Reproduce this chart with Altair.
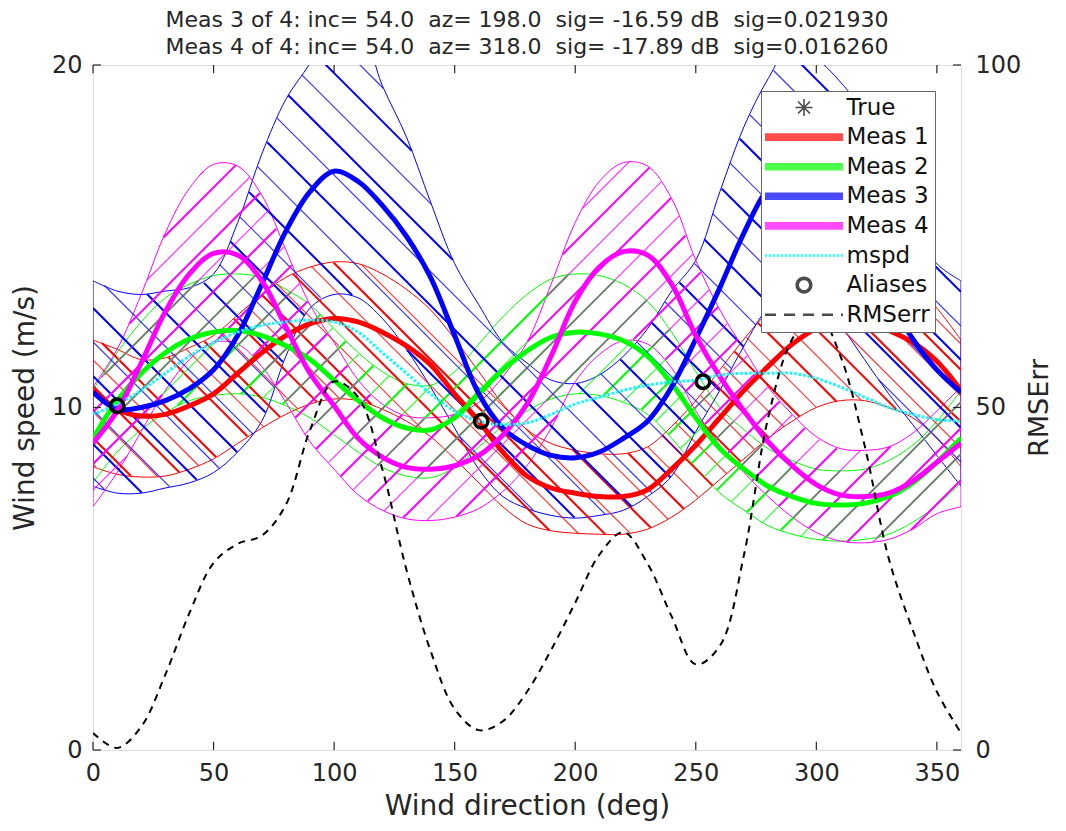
import altair as alt
import numpy as np
import pandas as pd

# ---------------- data ----------------
DEG = list(range(0, 361, 10))

MEAS1 = [10.5, 9.95, 9.75, 9.8, 10.05, 10.4, 11.0, 11.6, 12.1, 12.45, 12.6, 12.5, 12.2, 11.8, 11.25, 10.4, 9.6, 8.7, 8.0,
         7.65, 7.5, 7.4, 7.4, 7.6, 8.2, 8.9, 9.7, 10.5, 11.2, 11.85, 12.3, 12.5, 12.5, 12.25, 11.9, 11.35, 10.5]
MEAS1_HI = [11.97, 11.7, 11.4, 11.45, 11.75, 12.1, 12.7, 13.3, 13.8, 14.1, 14.25, 14.2, 13.9, 13.45, 12.85, 12.0, 11.05,
            10.1, 9.35, 8.95, 8.75, 8.65, 8.65, 8.85, 9.45, 10.2, 11.1, 12.0, 12.8, 13.45, 13.95, 14.2, 14.25, 14.0,
            13.6, 12.9, 11.97]
MEAS1_LO = [8.27, 8.05, 7.97, 8.0, 8.2, 8.5, 8.95, 9.4, 9.8, 10.1, 10.25, 10.2, 9.95, 9.6, 9.15, 8.5, 7.8, 7.1, 6.6,
            6.4, 6.33, 6.3, 6.3, 6.45, 6.8, 7.3, 7.9, 8.5, 9.1, 9.6, 10.0, 10.2, 10.2, 10.0, 9.7, 9.1, 8.27]

MEAS2 = [9.1, 10.2, 11.0, 11.6, 12.0, 12.2, 12.25, 12.1, 11.8, 11.4, 10.8, 10.2, 9.7, 9.4, 9.35, 9.7, 10.4, 11.1, 11.65,
         12.05, 12.2, 12.15, 11.95, 11.5, 10.7, 9.7, 8.8, 8.2, 7.7, 7.4, 7.2, 7.15, 7.2, 7.4, 7.8, 8.4, 9.1]
MEAS2_HI = [10.5, 11.6, 12.5, 13.2, 13.6, 13.85, 13.9, 13.8, 13.45, 13.0, 12.3, 11.6, 11.05, 10.7, 10.65, 11.05, 11.85,
            12.65, 13.3, 13.75, 13.9, 13.85, 13.6, 13.1, 12.2, 11.05, 10.0, 9.35, 8.8, 8.45, 8.2, 8.15, 8.2, 8.45, 8.9,
            9.6, 10.5]
MEAS2_LO = [7.8, 8.7, 9.35, 9.85, 10.2, 10.35, 10.4, 10.3, 10.05, 9.7, 9.2, 8.7, 8.25, 8.0, 7.95, 8.25, 8.85, 9.45, 9.9,
            10.25, 10.4, 10.35, 10.15, 9.8, 9.1, 8.25, 7.5, 7.0, 6.55, 6.3, 6.15, 6.1, 6.15, 6.3, 6.65, 7.15, 7.8]

MEAS3 = [10.45, 9.95, 10.0, 10.2, 10.55, 11.1, 12.1, 13.6, 15.15, 16.3, 16.9, 16.6, 15.9, 15.0, 13.8, 12.1, 10.4, 9.4,
         8.9, 8.6, 8.53, 8.7, 9.1, 9.6, 10.6, 12.0, 13.5, 15.1, 16.4, 17.0, 16.7, 15.6, 14.4, 13.2, 12.0, 11.1, 10.45]
MEAS3_HI = [13.7, 13.4, 13.3, 13.4, 13.5, 13.9, 15.4, 17.4, 19.0, 20.05, 21.3, 21.2, 19.4, 17.9, 16.0, 14.2, 13.0, 11.9,
            11.3, 10.8, 10.7, 10.95, 11.5, 12.3, 13.4, 14.3, 16.3, 18.2, 19.6, 20.6, 20.2, 19.5, 18.6, 17.0, 15.4, 14.2,
            13.7]
MEAS3_LO = [7.7, 7.5, 7.5, 7.65, 7.8, 8.1, 8.7, 9.6, 11.5, 12.9, 13.3, 13.2, 12.6, 11.7, 10.6, 9.4, 8.2, 7.4, 7.05, 6.85,
            6.77, 6.85, 7.0, 7.4, 8.0, 9.3, 10.5, 11.8, 12.9, 13.3, 13.2, 12.4, 11.4, 10.4, 9.5, 8.6, 7.7]

MEAS4 = [8.96, 9.9, 11.3, 12.8, 13.9, 14.5, 14.45, 13.7, 12.35, 11.0, 10.05, 9.1, 8.55, 8.25, 8.2, 8.3, 8.6, 9.2, 10.1,
         11.5, 13.1, 14.1, 14.55, 14.45, 13.6, 12.1, 10.9, 9.9, 9.0, 8.3, 7.75, 7.45, 7.4, 7.5, 7.85, 8.4, 8.96]
MEAS4_HI = [10.6, 11.7, 13.3, 15.1, 16.4, 17.1, 17.05, 16.2, 14.6, 13.0, 11.9, 10.8, 10.1, 9.75, 9.7, 9.8, 10.15, 10.9,
            11.9, 13.6, 15.4, 16.6, 17.15, 17.05, 16.1, 14.3, 12.85, 11.7, 10.6, 9.8, 9.15, 8.8, 8.75, 8.85, 9.25, 9.9,
            10.6]
MEAS4_LO = [7.1, 8.1, 9.3, 10.5, 11.4, 11.9, 11.85, 11.2, 10.15, 9.0, 8.2, 7.45, 7.0, 6.75, 6.7, 6.8, 7.05, 7.55, 8.3,
            9.4, 10.75, 11.55, 11.95, 11.85, 11.15, 9.9, 8.9, 8.1, 7.4, 6.8, 6.35, 6.1, 6.05, 6.15, 6.45, 6.9, 7.1]

MSPD = [9.8, 10.1, 10.5, 11.0, 11.5, 11.9, 12.2, 12.4, 12.5, 12.55, 12.5, 12.2, 11.6, 11.0, 10.4, 9.9, 9.6, 9.5, 9.55,
        9.8, 10.1, 10.3, 10.5, 10.65, 10.75, 10.8, 10.95, 11.0, 11.0, 11.0, 10.85, 10.6, 10.3, 10.0, 9.8, 9.65, 9.6]

RMSERR = [2.5, 0.3, 3.4, 11.0, 20.0, 27.3, 30.1, 31.3, 35.8, 46.7, 53.8, 51.5, 41.0, 26.3, 14.5, 6.0, 2.9, 4.2, 8.5,
          14.6, 21.5, 28.5, 31.8, 27.2, 19.5, 12.5, 15.2, 28.5, 48.5, 60.0, 64.0, 57.5, 44.5, 28.0, 17.5, 8.5, 2.5]

ALIAS_DIR = [10, 161, 253]
ALIAS_SPD = [10.05, 9.6, 10.75]

MEAS_NAMES = ["Meas 1", "Meas 2", "Meas 3", "Meas 4"]
MEAS_COLORS = ["#ff0000", "#00ff00", "#0000ff", "#ff00ff"]
SERIES = ["True", "Meas 1", "Meas 2", "Meas 3", "Meas 4", "mspd", "Aliases", "RMSerr"]
SERIES_COLORS = ["#000000", "#ff0000", "#00ff00", "#0000ff", "#ff00ff", "#00ffff", "#000000", "#000000"]

X_TICKS = [0, 50, 100, 150, 200, 250, 300, 350]
Y_TICKS = [0, 10, 20]
R_TICKS = [0, 50, 100]

TITLE_LINES = [
    "Meas 3 of 4: inc= 54.0  az= 198.0  sig= -16.59 dB  sig=0.021930",
    "Meas 4 of 4: inc= 54.0  az= 318.0  sig= -17.89 dB  sig=0.016260",
]

# ---------------- layout / style ----------------
W, H = 868, 685
FONT = "DejaVu Sans"
TXT = "#262626"
CURVE = "catmull-rom"
PX_X = W / 360.0
PX_Y = H / 20.0
K = PX_X / PX_Y  # m/s per degree for a 45 degree hatch line on screen

means = [MEAS1, MEAS2, MEAS3, MEAS4]
his = [MEAS1_HI, MEAS2_HI, MEAS3_HI, MEAS4_HI]
los = [MEAS1_LO, MEAS2_LO, MEAS3_LO, MEAS4_LO]
hatch_dir = [-1, 1, -1, 1]
hatch_gap = [26, 26, 34, 26]

xs = alt.Scale(domain=[0, 360], nice=False, zero=False)
ys = alt.Scale(domain=[0, 20], nice=False, zero=False)
rs = alt.Scale(domain=[0, 100], nice=False, zero=False)

xaxis = alt.Axis(values=X_TICKS, title="Wind direction (deg)", ticks=False, domain=False, grid=False,
                 labelFontSize=24, titleFontSize=28, labelFont=FONT, titleFont=FONT, labelColor=TXT,
                 titleColor=TXT, titleFontWeight="normal", labelPadding=11, titlePadding=7,
                 labelFlush=False, labelOverlap=False)
yaxis = alt.Axis(values=Y_TICKS, title="Wind speed (m/s)", ticks=False, domain=False, grid=False,
                 labelFontSize=24, titleFontSize=28, labelFont=FONT, titleFont=FONT, labelColor=TXT,
                 titleColor=TXT, titleFontWeight="normal", labelPadding=11, titlePadding=12,
                 labelFlush=False, labelOverlap=False)
raxis = alt.Axis(values=R_TICKS, title="RMSErr", orient="right", ticks=False, domain=False, grid=False,
                 labelFontSize=24, titleFontSize=27, labelFont=FONT, titleFont=FONT, labelColor=TXT,
                 titleColor=TXT, titleFontWeight="normal", labelPadding=14, titlePadding=6,
                 titleAngle=270, titleBaseline="top", labelFlush=False, labelOverlap=False)


def X(f="deg"):
    return alt.X(f"{f}:Q", scale=xs, axis=xaxis)


def Y(f):
    return alt.Y(f"{f}:Q", scale=ys, axis=yaxis)


def smooth(vals, n_sub=40):
    """Catmull-Rom evaluation of the read points (only used to clip the hatch lines)."""
    p = np.asarray(vals, dtype=float)
    ext = np.concatenate([[p[0]], p, [p[-1]]])
    t = np.linspace(0, 1, n_sub, endpoint=False)
    out = []
    for i in range(len(p) - 1):
        p0, p1, p2, p3 = ext[i], ext[i + 1], ext[i + 2], ext[i + 3]
        out.append(0.5 * (2 * p1 + (-p0 + p2) * t + (2 * p0 - 5 * p1 + 4 * p2 - p3) * t ** 2
                          + (-p0 + 3 * p1 - 3 * p2 + p3) * t ** 3))
    out.append([p[-1]])
    return np.concatenate(out)


layers = []

# band outlines
for name, col, hi, lo in zip(MEAS_NAMES, MEAS_COLORS, his, los):
    bdf = pd.DataFrame(dict(deg=DEG, hi=hi, lo=lo))
    layers.append(alt.Chart(bdf).mark_area(fillOpacity=0, stroke=col, strokeWidth=1, interpolate=CURVE,
                                           clip=True).encode(x=X(), y=Y("hi"), y2="lo"))

# hatch segments derived from the band limits
N_SUB = 40
dfine = np.linspace(0, 360, (len(DEG) - 1) * N_SUB + 1)
for name, col, hi, lo, s, gap in zip(MEAS_NAMES, MEAS_COLORS, his, los, hatch_dir, hatch_gap):
    lo_f = smooth(lo, N_SUB)
    hi_f = smooth(hi, N_SUB)
    step = gap / PX_Y
    base = lo_f - s * K * dfine
    top = hi_f - s * K * dfine
    cs = np.arange(np.floor(base.min() / step) * step, top.max() + step, step)
    rows = {0: [], 1: []}
    for i, c in enumerate(cs):
        v = c + s * K * dfine
        inside = ((v >= lo_f) & (v <= hi_f)).astype(int)
        edges = np.flatnonzero(np.diff(np.concatenate([[0], inside, [0]])))
        for a, b in zip(edges[::2], edges[1::2]):
            if b - a < 2:
                continue
            seg = f"{i}-{a}"
            rows[i % 2].append(dict(deg=dfine[a], speed=v[a], seg=seg))
            rows[i % 2].append(dict(deg=dfine[b - 1], speed=v[b - 1], seg=seg))
    for parity, width, op in ((1, 1.2, 0.8), (0, 2.0, 1.0)):
        hdf = pd.DataFrame(rows[parity])
        layers.append(alt.Chart(hdf).mark_line(color=col, strokeWidth=width, strokeOpacity=op, clip=True).encode(
            x=X(), y=Y("speed"), detail="seg:N"))

# mean curves
for name, col, m in zip(MEAS_NAMES, MEAS_COLORS, means):
    mdf = pd.DataFrame(dict(deg=DEG, speed=m))
    layers.append(alt.Chart(mdf).mark_line(color=col, strokeWidth=5, interpolate=CURVE, clip=True).encode(
        x=X(), y=Y("speed")))

mspd_df = pd.DataFrame(dict(deg=DEG, speed=MSPD))
layers.append(alt.Chart(mspd_df).mark_line(color="#00ffff", strokeWidth=3, strokeDash=[2.5, 2],
                                           interpolate=CURVE, clip=True).encode(x=X(), y=Y("speed")))

alias_df = pd.DataFrame(dict(deg=ALIAS_DIR, speed=ALIAS_SPD))
layers.append(alt.Chart(alias_df).mark_point(shape="circle", filled=False, color="black", size=180,
                                             strokeWidth=3.5, opacity=1).encode(x=X(), y=Y("speed")))

# inward tick marks on all four sides
xt_rows = []
for t in X_TICKS:
    xt_rows.append(dict(deg=t, a=0.0, b=0.24))
    xt_rows.append(dict(deg=t, a=20.0, b=19.76))
yt_rows = []
for t in Y_TICKS:
    yt_rows.append(dict(a=0.0, b=3.3, speed=t))
    yt_rows.append(dict(a=360.0, b=356.7, speed=t))
layers.append(alt.Chart(pd.DataFrame(xt_rows)).mark_rule(color=TXT, strokeWidth=1.2).encode(
    x=X(), y=Y("a"), y2="b"))
layers.append(alt.Chart(pd.DataFrame(yt_rows)).mark_rule(color=TXT, strokeWidth=1.2).encode(
    x=X("a"), x2="b", y=Y("speed")))

# legend (custom symbol paths, 1 unit = 5 px at symbolSize 100)
P_TRUE = "M-1.7,0L1.7,0M0,-1.7L0,1.7M-1.2,-1.2L1.2,1.2M-1.2,1.2L1.2,-1.2"
P_THICK = ("M-7.8,-0.6L7.8,-0.6M-7.8,-0.4L7.8,-0.4M-7.8,-0.2L7.8,-0.2M-7.8,0L7.8,0"
           "M-7.8,0.2L7.8,0.2M-7.8,0.4L7.8,0.4M-7.8,0.6L7.8,0.6")
P_DOT = "M-7.8,-0.15L7.8,-0.15M-7.8,0.05L7.8,0.05M-7.8,0.15L7.8,0.15"
P_RING = ("M1.15,0A1.15,1.15,0,1,1,-1.15,0A1.15,1.15,0,1,1,1.15,0"
          "M1.35,0A1.35,1.35,0,1,1,-1.35,0A1.35,1.35,0,1,1,1.35,0"
          "M1.55,0A1.55,1.55,0,1,1,-1.55,0A1.55,1.55,0,1,1,1.55,0")
P_DASH = "M-7.8,-0.1L7.8,-0.1M-7.8,0.1L7.8,0.1"
sym_shape = (f"datum.value === 'True' ? '{P_TRUE}' : (datum.value === 'Aliases' ? '{P_RING}' : "
             f"(datum.value === 'mspd' ? '{P_DOT}' : (datum.value === 'RMSerr' ? '{P_DASH}' : '{P_THICK}')))")
sym_dash = "datum.value === 'mspd' ? [2.5, 1.5] : (datum.value === 'RMSerr' ? [11, 8] : [1, 0])"

legend = alt.Legend(
    title=None, orient="top-right", offset=26, padding=5, fillColor="white", strokeColor="#666666",
    labelFontSize=23, labelFont=FONT, labelColor="#111111", rowPadding=5.6, symbolSize=100,
    symbolStrokeWidth=1.6, symbolOffset=26.5, labelOffset=31,
    symbolType=alt.ExprRef(expr=sym_shape), symbolDash=alt.ExprRef(expr=sym_dash),
)
legend_df = pd.DataFrame(dict(deg=[-50] * len(SERIES), speed=[5] * len(SERIES), series=SERIES))
layers.append(alt.Chart(legend_df).mark_point(filled=False, clip=True).encode(
    x=X(), y=Y("speed"),
    color=alt.Color("series:N", scale=alt.Scale(domain=SERIES, range=SERIES_COLORS), legend=legend)))

speed_layer = alt.layer(*layers)

rms_df = pd.DataFrame(dict(deg=DEG, err=RMSERR))
rms = alt.Chart(rms_df).mark_line(color="black", strokeWidth=2, strokeDash=[7, 6], interpolate=CURVE,
                                  clip=True).encode(x=X(), y=alt.Y("err:Q", scale=rs, axis=raxis))

chart = alt.layer(speed_layer, rms).resolve_scale(y="independent").properties(
    width=W, height=H,
    title=alt.Title([t.replace("  ", "\u00a0\u00a0") for t in TITLE_LINES], fontSize=22, font=FONT,
                    fontWeight="normal", color=TXT, anchor="middle", offset=-6, lineHeight=27.5),
    padding={"left": 85, "top": 57, "right": 97, "bottom": 72},
    autosize=alt.AutoSizeParams(type="none"),
).configure_view(stroke=TXT, strokeWidth=1.5).configure(background="white")

chart.save("out.html", embed_options={"renderer": "svg", "actions": False})
